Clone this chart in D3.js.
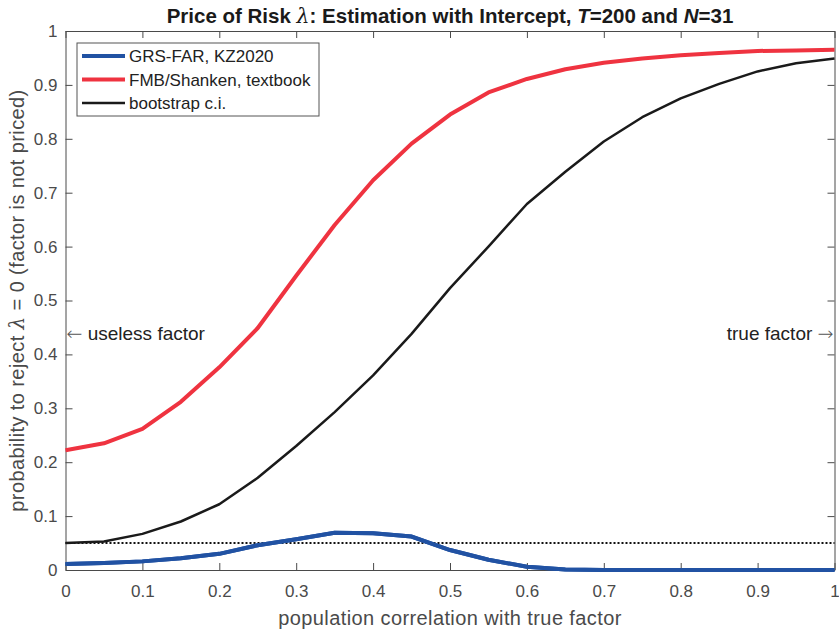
<!DOCTYPE html>
<html lang="en">
<head>
    <meta charset="UTF-8">
    <title>Price of Risk</title>
    <script src="https://d3js.org/d3.v7.min.js"></script>
    <style>
        body {
            margin: 0;
            background: #fff;
            font-family: "Liberation Sans", Arial, Helvetica, sans-serif;
        }
        .tick text {
            font-size: 17px;
            fill: #4a4a4a;
        }
        .tick line, .domain {
            stroke: #4a4a4a;
        }
    </style>
</head>
<body>
<div id="chart"></div>
<script>
    // data
    const corr = [0, 0.05, 0.1, 0.15, 0.2, 0.25, 0.3, 0.35, 0.4, 0.45, 0.5,
        0.55, 0.6, 0.65, 0.7, 0.75, 0.8, 0.85, 0.9, 0.95, 1];
    const grsFar = [0.011, 0.013, 0.016, 0.022, 0.030, 0.046, 0.057, 0.069, 0.068, 0.062, 0.037,
        0.019, 0.006, 0.001, 0, 0, 0, 0, 0, 0, 0];
    const fmbShanken = [0.222, 0.235, 0.262, 0.312, 0.376, 0.449, 0.546, 0.640, 0.723, 0.791, 0.845,
        0.886, 0.911, 0.929, 0.941, 0.949, 0.955, 0.959, 0.963, 0.964, 0.965];
    const bootstrap = [0.050, 0.053, 0.067, 0.090, 0.122, 0.171, 0.230, 0.293, 0.361, 0.438, 0.523,
        0.600, 0.679, 0.739, 0.795, 0.840, 0.875, 0.902, 0.925, 0.940, 0.949];
    const nominalLevel = 0.05;
    const seriesNames = ["GRS-FAR, KZ2020", "FMB/Shanken, textbook", "bootstrap c.i."];
    const tickValues = [0, 0.1, 0.2, 0.3, 0.4, 0.5, 0.6, 0.7, 0.8, 0.9, 1];

    const W = 839, H = 633;
    const margin = { top: 31, right: 4.5, bottom: 63, left: 65.5 };
    const width = W - margin.left - margin.right;
    const height = H - margin.top - margin.bottom;

    const svg = d3.select("#chart").append("svg")
        .attr("width", W)
        .attr("height", H);

    const g = svg.append("g")
        .attr("transform", `translate(${margin.left},${margin.top})`);

    const x = d3.scaleLinear().domain([0, 1]).range([0, width]);
    const y = d3.scaleLinear().domain([0, 1]).range([height, 0]);

    const fmt = d => d === 0 || d === 1 ? String(d) : d.toFixed(1);

    // axes (box with inward ticks on all sides)
    g.append("g").attr("transform", `translate(0,${height})`)
        .call(d3.axisBottom(x).tickValues(tickValues).tickFormat(fmt).tickSizeInner(-7).tickSizeOuter(0).tickPadding(15));
    g.append("g")
        .call(d3.axisTop(x).tickValues(tickValues).tickFormat("").tickSizeInner(-7).tickSizeOuter(0));
    g.append("g")
        .call(d3.axisLeft(y).tickValues(tickValues).tickFormat(fmt).tickSizeInner(-7).tickSizeOuter(0).tickPadding(8));
    g.append("g").attr("transform", `translate(${width},0)`)
        .call(d3.axisRight(y).tickValues(tickValues).tickFormat("").tickSizeInner(-7).tickSizeOuter(0));

    const line = d3.line()
        .x((d, i) => x(corr[i]))
        .y(d => y(d));

    // nominal level (dotted)
    g.append("line")
        .attr("x1", x(0)).attr("x2", x(1))
        .attr("y1", y(nominalLevel)).attr("y2", y(nominalLevel))
        .attr("stroke", "#111")
        .attr("stroke-width", 2)
        .attr("stroke-dasharray", "2,2");

    const series = [
        { vals: grsFar, color: "#2152a3", w: 4 },
        { vals: fmbShanken, color: "#ef3340", w: 4 },
        { vals: bootstrap, color: "#1a1a1a", w: 2.5 }
    ];

    series.forEach(s => {
        g.append("path")
            .datum(s.vals)
            .attr("fill", "none")
            .attr("stroke", s.color)
            .attr("stroke-width", s.w)
            .attr("stroke-linejoin", "round")
            .attr("d", line);
    });

    // blue on top
    g.append("path")
        .datum(grsFar)
        .attr("fill", "none")
        .attr("stroke", series[0].color)
        .attr("stroke-width", 4)
        .attr("d", line);

    // legend
    const legend = g.append("g").attr("transform", "translate(11.5,12)");
    legend.append("rect")
        .attr("width", 242).attr("height", 73)
        .attr("fill", "#fff")
        .attr("stroke", "#555")
        .attr("stroke-width", 1);
    seriesNames.forEach((name, i) => {
        const ly = 13 + i * 23.5;
        legend.append("line")
            .attr("x1", 5).attr("x2", 48)
            .attr("y1", ly).attr("y2", ly)
            .attr("stroke", series[i].color)
            .attr("stroke-width", series[i].w);
        legend.append("text")
            .attr("x", 52).attr("y", ly + 6)
            .attr("font-size", 17)
            .attr("fill", "#222")
            .text(name);
    });

    // annotations
    const ann = g.append("text")
        .attr("x", 1).attr("y", y(0.437) + 6)
        .attr("font-size", 19)
        .attr("fill", "#222");
    ann.append("tspan").attr("font-family", "DejaVu Sans").attr("font-weight", 200).attr("fill", "#555").text("\u2190");
    ann.append("tspan").text(" useless factor");

    const ann2 = g.append("text")
        .attr("x", width - 1).attr("y", y(0.437) + 6)
        .attr("text-anchor", "end")
        .attr("font-size", 19)
        .attr("fill", "#222");
    ann2.append("tspan").text("true factor ");
    ann2.append("tspan").attr("font-family", "DejaVu Sans").attr("font-weight", 200).attr("fill", "#555").text("\u2192");

    // title
    const title = svg.append("text")
        .attr("x", margin.left + width / 2)
        .attr("y", 23)
        .attr("text-anchor", "middle")
        .attr("font-size", 20.5)
        .attr("font-weight", "bold")
        .attr("fill", "#1a1a1a");
    title.append("tspan").text("Price of Risk ");
    title.append("tspan").attr("font-family", "DejaVu Serif").attr("font-style", "italic").attr("font-weight", "normal").text("\u03bb");
    title.append("tspan").text(": Estimation with Intercept, ");
    title.append("tspan").attr("font-style", "italic").text("T");
    title.append("tspan").text("=200 and ");
    title.append("tspan").attr("font-style", "italic").text("N");
    title.append("tspan").text("=31");

    // axis labels
    svg.append("text")
        .attr("x", margin.left + width / 2)
        .attr("y", 625)
        .attr("text-anchor", "middle")
        .attr("font-size", 20)
        .attr("letter-spacing", 0.4)
        .attr("fill", "#4a4a4a")
        .text("population correlation with true factor");

    const yl = svg.append("text")
        .attr("transform", `translate(24,${margin.top + height / 2}) rotate(-90)`)
        .attr("text-anchor", "middle")
        .attr("font-size", 20)
        .attr("letter-spacing", 0.4)
        .attr("fill", "#4a4a4a");
    yl.append("tspan").text("probability to reject ");
    yl.append("tspan").attr("font-family", "DejaVu Serif").attr("font-style", "italic").text("\u03bb");
    yl.append("tspan").text(" = 0 (factor is not priced)");
</script>
</body>
</html>
